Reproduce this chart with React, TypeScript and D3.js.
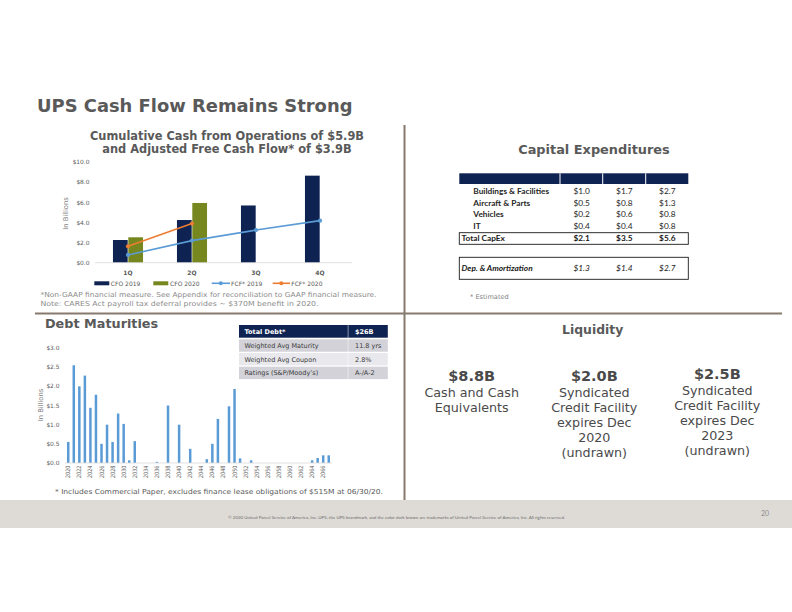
import React from 'react';
import * as d3 from 'd3';

// ---------- DATA ----------
const quarters = ['1Q', '2Q', '3Q', '4Q'];
const cfo2019 = [2.26, 4.25, 5.7, 8.67];
const cfo2020 = [2.53, 5.95];
const fcf2019 = [0.77, 2.2, 3.25, 4.19];
const fcf2020 = [1.63, 3.9];
const cashTicks = [0, 2, 4, 6, 8, 10];
const cashSeries = ['CFO 2019', 'CFO 2020'];

const debtYears = [
  2020, 2021, 2022, 2023, 2024, 2025, 2026, 2027, 2028, 2029,
  2030, 2031, 2032, 2033, 2034, 2035, 2036, 2037, 2038, 2039,
  2040, 2041, 2042, 2043, 2044, 2045, 2046, 2047, 2048, 2049,
  2050, 2051, 2052, 2053, 2054, 2055, 2056, 2057, 2058, 2059,
  2060, 2061, 2062, 2063, 2064, 2065, 2066, 2067,
];
const debtValues = [
  0.55, 2.55, 2.0, 2.28, 1.44, 1.78, 0.5, 1.0, 0.55, 1.29,
  1.02, 0.07, 0.57, 0, 0, 0, 0.03, 0, 1.5, 0,
  1.0, 0, 0.37, 0, 0, 0.1, 0.5, 1.15, 0, 1.48,
  1.93, 0.12, 0, 0.07, 0, 0, 0, 0, 0, 0,
  0, 0, 0, 0, 0.07, 0.13, 0.2, 0.2,
];
const debtTicks = [0, 0.5, 1, 1.5, 2, 2.5, 3];

const debtTableLabels = ['Total Debt*', 'Weighted Avg Maturity', 'Weighted Avg Coupon', 'Ratings (S&P/Moody\u2019s)'];
const debtTableValues = ['$26B', '11.8 yrs', '2.8%', 'A-/A-2'];

const capexCategories = ['Buildings & Facilities', 'Aircraft & Parts', 'Vehicles', 'IT'];
const capexValues = [
  [1.0, 1.7, 2.7],
  [0.5, 0.8, 1.3],
  [0.2, 0.6, 0.8],
  [0.4, 0.4, 0.8],
];
const capexTotal = [2.1, 3.5, 5.6];
const depAmort = [1.3, 1.4, 2.7];

const liquidityValues = ['$8.8B', '$2.0B', '$2.5B'];
const liquidityText = [
  ['Cash and Cash', 'Equivalents'],
  ['Syndicated', 'Credit Facility', 'expires Dec', '2020', '(undrawn)'],
  ['Syndicated', 'Credit Facility', 'expires Dec', '2023', '(undrawn)'],
];

// ---------- STYLE ----------
const SANS = "'DejaVu Sans', Verdana, sans-serif";
const CAL = "Lato, 'Liberation Sans', sans-serif";
const NAVY = '#0f2352';
const OLIVE = '#76871f';
const BLUE = '#5b9bd5';
const ORANGE = '#ed7d31';
const GRAY = '#595959';
const RULE = '#857a6d';

const fmt = (v: number) => '$' + v.toFixed(1);

function CashChart() {
  const x = d3.scaleBand<string>().domain(quarters).range([96, 352]).paddingInner(0.53).paddingOuter(0.265);
  const xs = d3.scaleBand<string>().domain(cashSeries).range([0, x.bandwidth()]).paddingInner(0.04);
  const y = d3.scaleLinear().domain([0, 10]).range([262.7, 162.3]);
  const cx = (q: string) => (x(q) as number) + x.bandwidth() / 2;
  const line = d3.line<[number, number]>().x((d) => d[0]).y((d) => d[1]);
  const p19 = fcf2019.map((v, i) => [cx(quarters[i]), y(v)] as [number, number]);
  const p20 = fcf2020.map((v, i) => [cx(quarters[i]), y(v)] as [number, number]);
  return (
    <g>
      <text x={227} y={139.5} textAnchor="middle" fontFamily={SANS} fontWeight="bold" fontSize={11.4} fill={GRAY}>
        Cumulative Cash from Operations of $5.9B
      </text>
      <text x={227} y={152.8} textAnchor="middle" fontFamily={SANS} fontWeight="bold" fontSize={11.4} fill={GRAY}>
        and Adjusted Free Cash Flow* of $3.9B
      </text>
      {cashTicks.map((t) => (
        <text key={t} x={89.5} y={y(t) + 2.1} textAnchor="end" fontFamily={SANS} fontSize={5.9} fill={GRAY}>
          {fmt(t)}
        </text>
      ))}
      <text transform={`translate(67.5,213.5) rotate(-90)`} textAnchor="middle" fontFamily={SANS} fontSize={6.8} fill="#808080">
        In Billions
      </text>
      {cfo2019.map((v, i) => (
        <rect key={'a' + i} x={(x(quarters[i]) as number) + (xs('CFO 2019') as number)} y={y(v)} width={xs.bandwidth()} height={y(0) - y(v)} fill={NAVY} />
      ))}
      {cfo2020.map((v, i) => (
        <rect key={'b' + i} x={(x(quarters[i]) as number) + (xs('CFO 2020') as number)} y={y(v)} width={xs.bandwidth()} height={y(0) - y(v)} fill={OLIVE} />
      ))}
      <line x1={95} x2={352} y1={y(0)} y2={y(0)} stroke="#d9d9d9" strokeWidth={0.8} />
      <path d={line(p19) as string} fill="none" stroke={BLUE} strokeWidth={1.6} />
      {p19.map((p, i) => (
        <circle key={'c' + i} cx={p[0]} cy={p[1]} r={2.1} fill={BLUE} />
      ))}
      <path d={line(p20) as string} fill="none" stroke={ORANGE} strokeWidth={1.6} />
      {p20.map((p, i) => (
        <circle key={'d' + i} cx={p[0]} cy={p[1]} r={2.1} fill={ORANGE} />
      ))}
      {quarters.map((q) => (
        <text key={q} x={cx(q)} y={274.5} textAnchor="middle" fontFamily={SANS} fontWeight="bold" fontSize={6} fill={GRAY}>
          {q}
        </text>
      ))}
      {/* legend */}
      <rect x={94.3} y={281.3} width={15} height={4} fill={NAVY} />
      <text x={110.8} y={285.5} fontFamily={SANS} fontSize={6} fill={GRAY}>CFO 2019</text>
      <rect x={153.3} y={281.3} width={15} height={4} fill={OLIVE} />
      <text x={170} y={285.5} fontFamily={SANS} fontSize={6} fill={GRAY}>CFO 2020</text>
      <line x1={211.7} x2={230} y1={283.3} y2={283.3} stroke={BLUE} strokeWidth={1.6} />
      <circle cx={220.8} cy={283.3} r={2} fill={BLUE} />
      <text x={231} y={285.5} fontFamily={SANS} fontSize={6} fill={GRAY}>FCF* 2019</text>
      <line x1={272.7} x2={290} y1={283.3} y2={283.3} stroke={ORANGE} strokeWidth={1.6} />
      <circle cx={281.3} cy={283.3} r={2} fill={ORANGE} />
      <text x={291.2} y={285.5} fontFamily={SANS} fontSize={6} fill={GRAY}>FCF* 2020</text>
      <text x={40.5} y={297} fontFamily={SANS} fontSize={6.9} fill="#8c8c8c" textLength={336} lengthAdjust="spacingAndGlyphs">
        *Non-GAAP financial measure. See Appendix for reconciliation to GAAP financial measure.
      </text>
      <text x={40.5} y={306} fontFamily={SANS} fontSize={6.9} fill="#8c8c8c" textLength={278} lengthAdjust="spacingAndGlyphs">
        Note: CARES Act payroll tax deferral provides ~ $370M benefit in 2020.
      </text>
    </g>
  );
}

function DebtChart() {
  const x = d3.scaleBand<number>().domain(debtYears).range([65.5, 331.5]).paddingInner(0.55).paddingOuter(0.27);
  const y = d3.scaleLinear().domain([0, 3]).range([463, 348]);
  const cx = (yr: number) => (x(yr) as number) + x.bandwidth() / 2;
  return (
    <g>
      <text x={45} y={328} fontFamily={SANS} fontWeight="bold" fontSize={12.8} fill={GRAY}>Debt Maturities</text>
      {debtTicks.map((t) => (
        <text key={t} x={59.5} y={y(t) + 2.1} textAnchor="end" fontFamily={SANS} fontSize={5.9} fill={GRAY}>
          {fmt(t)}
        </text>
      ))}
      <text transform={`translate(42.5,405) rotate(-90)`} textAnchor="middle" fontFamily={SANS} fontSize={6.8} fill="#808080">
        In Billions
      </text>
      {debtValues.map((v, i) =>
        v > 0 ? (
          <rect key={i} x={x(debtYears[i]) as number} y={y(v)} width={x.bandwidth()} height={y(0) - y(v)} fill={BLUE} />
        ) : null
      )}
      <line x1={65} x2={332} y1={y(0)} y2={y(0)} stroke="#d9d9d9" strokeWidth={0.8} />
      {debtYears.filter((yr) => yr % 2 === 0).map((yr) => (
        <text key={yr} transform={`translate(${cx(yr) + 2},${465.5}) rotate(-90)`} textAnchor="end" fontFamily={SANS} fontSize={6} fill={GRAY} textLength={12.5} lengthAdjust="spacingAndGlyphs">
          {yr}
        </text>
      ))}
      <text x={55} y={493.5} fontFamily={SANS} fontSize={6.9} fill={GRAY} textLength={328} lengthAdjust="spacingAndGlyphs">
        * Includes Commercial Paper, excludes finance lease obligations of $515M at 06/30/20.
      </text>
      {/* table */}
      {debtTableLabels.map((lab, i) => {
        const top = i === 0 ? 325 : 339.3 + (i - 1) * 13.7;
        const h = i === 0 ? 12.7 : 12.4;
        const fill = i === 0 ? NAVY : i === 2 ? '#e9e9ed' : '#d2d2d8';
        const tc = i === 0 ? '#ffffff' : '#3a3a3a';
        return (
          <g key={lab}>
            <rect x={239} y={top} width={108.8} height={h} fill={fill} />
            <rect x={348.3} y={top} width={39.5} height={h} fill={fill} />
            <text x={244.5} y={top + h / 2 + 2.3} fontFamily={SANS} fontSize={6.5} fontWeight={i === 0 ? 'bold' : 'normal'} fill={tc}>{lab}</text>
            <text x={355} y={top + h / 2 + 2.3} fontFamily={SANS} fontSize={6.5} fontWeight={i === 0 ? 'bold' : 'normal'} fill={tc}>{debtTableValues[i]}</text>
          </g>
        );
      })}
    </g>
  );
}

function Capex() {
  const colX = [581.7, 624.3, 667.3];
  const rowY = [194, 205.7, 217.3, 229];
  return (
    <g>
      <text x={594} y={154} textAnchor="middle" fontFamily={SANS} fontWeight="bold" fontSize={12.9} fill={GRAY}>Capital Expenditures</text>
      <rect x={459.3} y={173.3} width={229} height={10.7} fill={NAVY} />
      {[560, 602.7, 645.7].map((d) => (
        <line key={d} x1={d} x2={d} y1={173.3} y2={184} stroke="#ffffff" strokeWidth={1} />
      ))}
      {capexCategories.map((c, i) => (
        <g key={c}>
          <text x={473.3} y={rowY[i]} fontFamily={CAL} fontWeight="bold" fontSize={8.3} fill="#262626">{c}</text>
          {capexValues[i].map((v, j) => (
            <text key={j} x={colX[j]} y={rowY[i]} textAnchor="middle" fontFamily={CAL} fontSize={8.3} fill="#262626">{fmt(v)}</text>
          ))}
        </g>
      ))}
      <rect x={459.3} y={232.7} width={229} height={11.6} fill="none" stroke="#1a1a1a" strokeWidth={0.9} />
      <text x={461.5} y={241.3} fontFamily={CAL} fontWeight="bold" fontSize={8.3} fill="#1a1a1a">Total CapEx</text>
      {capexTotal.map((v, j) => (
        <text key={j} x={colX[j]} y={241.3} textAnchor="middle" fontFamily={CAL} fontWeight="bold" fontSize={8.3} fill="#1a1a1a">{fmt(v)}</text>
      ))}
      <rect x={459.3} y={257.3} width={229} height={22} fill="none" stroke="#1a1a1a" strokeWidth={0.9} />
      <text x={461.5} y={271.3} fontFamily={CAL} fontWeight="bold" fontStyle="italic" fontSize={8.3} fill="#1a1a1a">Dep. &amp; Amortization</text>
      {depAmort.map((v, j) => (
        <text key={j} x={colX[j]} y={271.3} textAnchor="middle" fontFamily={CAL} fontStyle="italic" fontSize={8.3} fill="#1a1a1a">{fmt(v)}</text>
      ))}
      <text x={470} y={298.5} fontFamily={SANS} fontSize={6.6} fill="#7f7f7f">* Estimated</text>
    </g>
  );
}

function Liquidity() {
  const colX = [471.7, 594.3, 717.3];
  const yOff = [0, 0, -2.2];
  return (
    <g>
      <text x={592.7} y={334.3} textAnchor="middle" fontFamily={SANS} fontWeight="bold" fontSize={12.4} fill={GRAY}>Liquidity</text>
      {liquidityValues.map((v, i) => (
        <g key={v}>
          <text x={colX[i]} y={381 + yOff[i]} textAnchor="middle" fontFamily={SANS} fontWeight="bold" fontSize={14.5} fill="#4a4a4a">{v}</text>
          {liquidityText[i].map((t, k) => (
            <text key={k} x={colX[i]} y={396.7 + k * 15 + yOff[i] * (i === 2 ? 0.8 : 0)} textAnchor="middle" fontFamily={SANS} fontSize={12.7} fill="#4a4a4a">{t}</text>
          ))}
        </g>
      ))}
    </g>
  );
}

export default function App() {
  return (
    <svg width={792} height={612} viewBox="0 0 792 612" style={{ position: 'absolute', left: 0, top: 0, background: '#ffffff' }}>
      <rect x={0} y={0} width={792} height={612} fill="#ffffff" />
      <text x={37} y={112.3} fontFamily={SANS} fontWeight="bold" fontSize={17.9} fill={GRAY}>UPS Cash Flow Remains Strong</text>
      <line x1={404.5} x2={404.5} y1={125} y2={500} stroke={RULE} strokeWidth={2} />
      <line x1={35} x2={782} y1={313.5} y2={313.5} stroke={RULE} strokeWidth={2} />
      <CashChart />
      <Capex />
      <DebtChart />
      <Liquidity />
      <rect x={0} y={500} width={792} height={28} fill="#dedbd6" />
      <text x={396.5} y={519} textAnchor="middle" fontFamily={CAL} fontSize={4.2} fill="#6e6e6e" textLength={337} lengthAdjust="spacingAndGlyphs">
        © 2020 United Parcel Service of America, Inc. UPS, the UPS brandmark, and the color dark brown are trademarks of United Parcel Service of America, Inc. All rights reserved.
      </text>
      <text x={765} y={516} textAnchor="middle" fontFamily={CAL} fontSize={7} fill="#8c8c8c">20</text>
    </svg>
  );
}
